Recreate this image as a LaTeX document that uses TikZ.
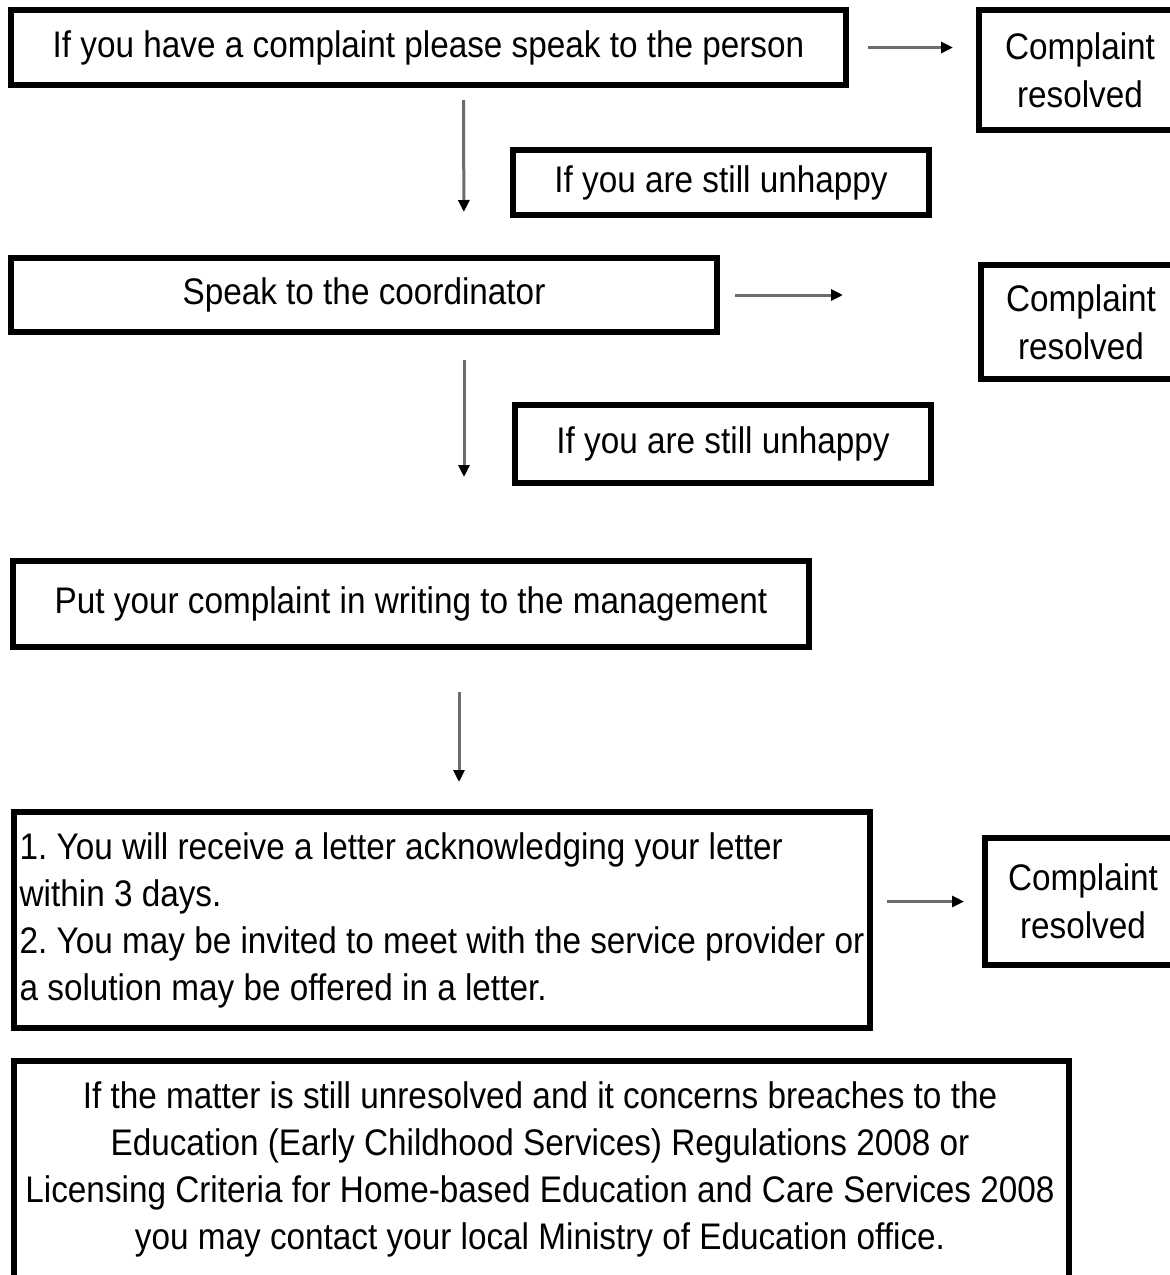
\documentclass[tikz,border=0pt]{standalone}
\usepackage{fontspec}
\setmainfont{Liberation Sans}[FakeStretch=0.9]
\usetikzlibrary{arrows.meta}
\frenchspacing
\begin{document}
\begin{tikzpicture}[x=1pt,y=-1pt,
  box/.style={draw=black, line width=6pt, outer sep=0pt, inner sep=0pt,
              font=\fontsize{37}{47}\selectfont},
  rbox/.style={box, align=center, font=\fontsize{37}{48}\selectfont},
  txt/.style={inner sep=0pt, outer sep=0pt, font=\fontsize{37}{47}\selectfont},
  conn/.style={draw=gray!85!black, line width=3pt,
               -{Triangle[length=12pt,width=11pt,color=black]}},
]
\clip (0,0) rectangle (1170,1275);
\fill[white] (0,0) rectangle (1170,1275);

% main column
\node[box, minimum width=835pt, minimum height=75pt] (b1) at (428.5,47.5)
  {If you have a complaint please speak to the person};
\node[box, minimum width=706pt, minimum height=74pt] (b2) at (364,295)
  {Speak to the coordinator};
\node[box, minimum width=796pt, minimum height=86pt] (b3) at (411,604)
  {Put your complaint in writing to the management};
\node[box, minimum width=856pt, minimum height=216pt, align=left] (b4) at (442,920)
  {1. You will receive a letter acknowledging your letter\\
   within 3 days.\\
   2. You may be invited to meet with the service provider or\\
   a solution may be offered in a letter.};
\node[box, minimum width=1055pt, minimum height=300pt, anchor=north] (b5) at (541.5,1061) {};
\node[txt, align=center] (t5) at (540,1169)
  {If the matter is still unresolved and it concerns breaches to the\\
   Education (Early Childhood Services) Regulations 2008 or\\
   Licensing Criteria for Home-based Education and Care Services 2008\\
   you may contact your local Ministry of Education office.};

% "still unhappy" boxes
\node[box, minimum width=416pt, minimum height=65pt] (u1) at (721,182.5)
  {If you are still unhappy};
\node[box, minimum width=416pt, minimum height=78pt] (u2) at (723,444)
  {If you are still unhappy};

% resolved boxes
\node[rbox, minimum width=202pt, minimum height=120pt] (r1) at (1080,70)
  {Complaint\\resolved};
\node[rbox, minimum width=200pt, minimum height=114pt] (r2) at (1081,322)
  {Complaint\\resolved};
\node[rbox, minimum width=196pt, minimum height=127pt] (r3) at (1083,901.5)
  {Complaint\\resolved};

% connectors
\draw[conn, shorten <=22pt, shorten >=26pt] (b1.east) -- (b1.east -| r1.west);
\draw[conn, shorten <=18pt, shorten >=138pt] (b2.east) -- (b2.east -| r2.west);
\draw[conn, shorten <=17pt, shorten >=21pt] (r3.west -| b4.east) -- (r3.west);
\draw[conn, shorten <=15pt, shorten >=46pt] ([xshift=35pt]b1.south) -- ([xshift=100pt]b2.north);
\draw[conn, shorten <=28pt, shorten >=84pt] ([xshift=100pt]b2.south) -- ([xshift=53pt]b3.north);
\draw[conn, shorten <=45pt, shorten >=30pt] ([xshift=48pt]b3.south) -- ([xshift=17pt]b4.north);
\end{tikzpicture}
\end{document}
